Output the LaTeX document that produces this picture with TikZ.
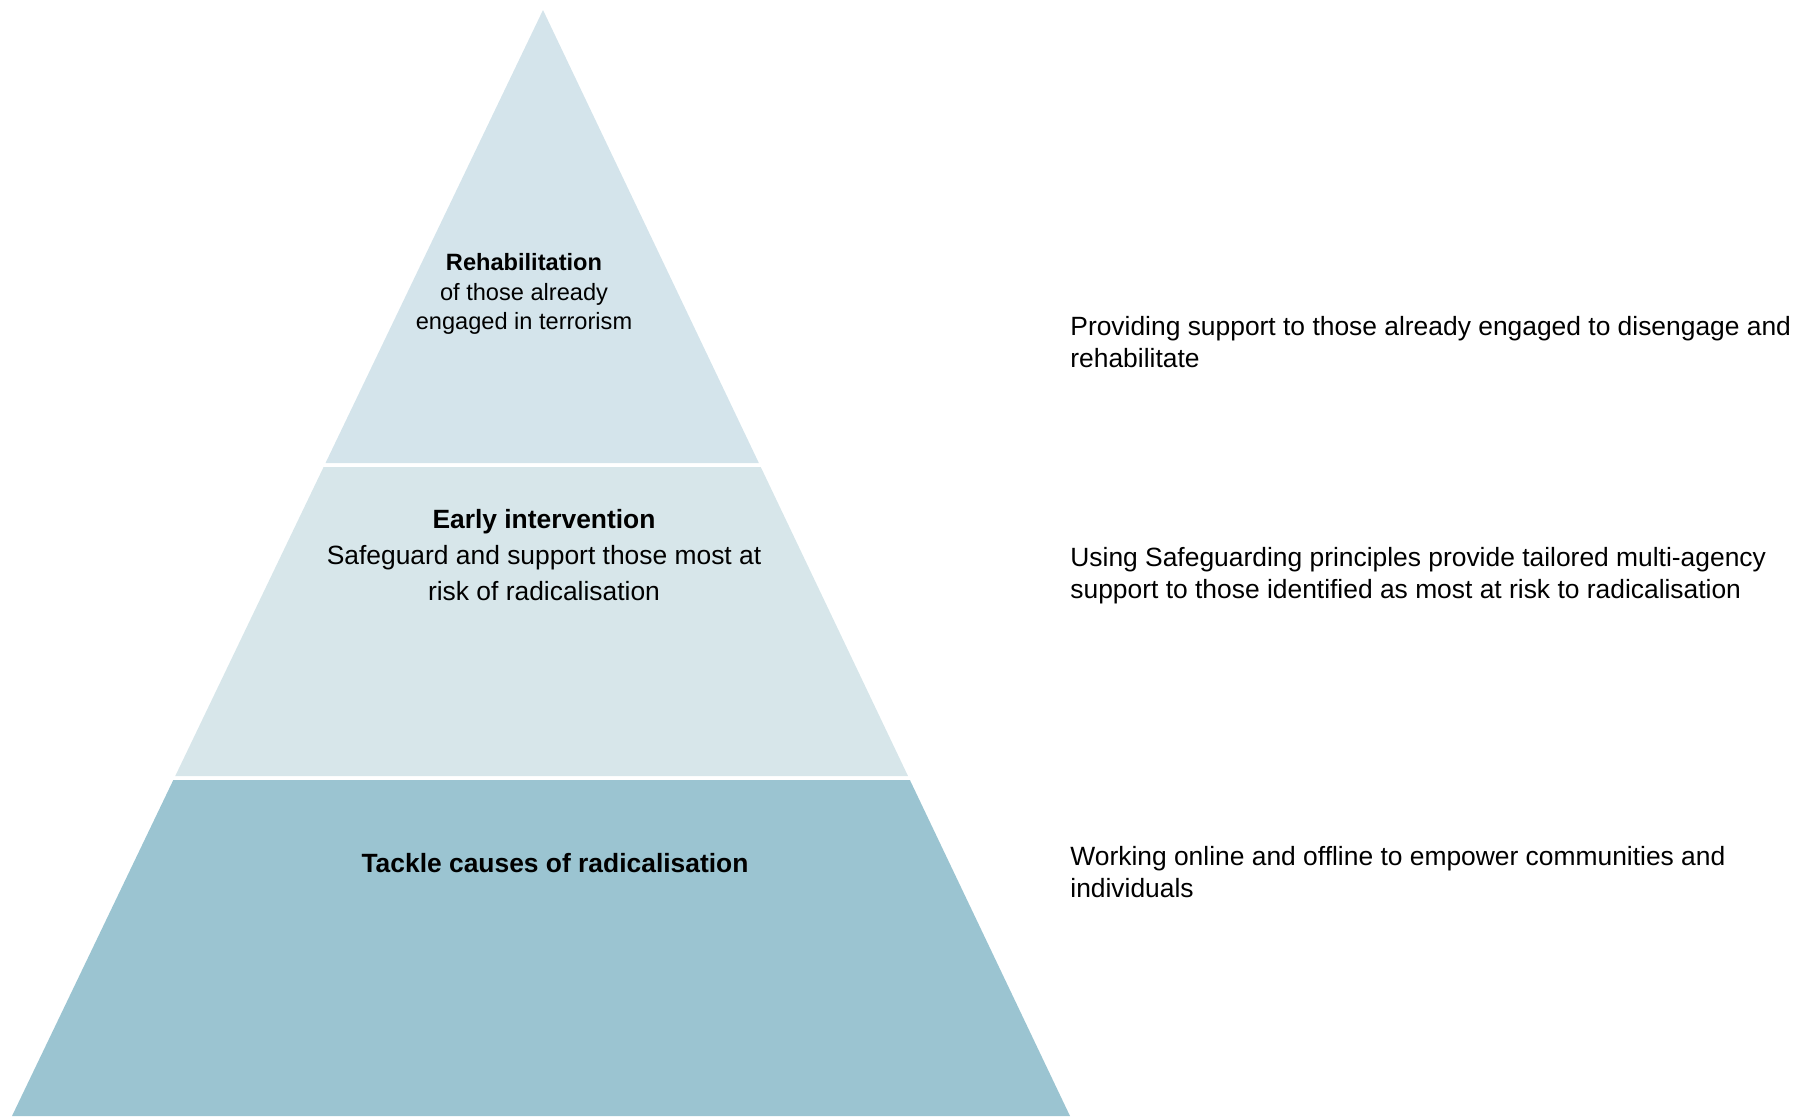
\documentclass[tikz,border=0pt]{standalone}
\usepackage{fontspec}
\setmainfont{Liberation Sans}
\usetikzlibrary{calc, positioning}

\definecolor{toptier}{RGB}{212,228,235}
\definecolor{midtier}{RGB}{215,230,234}
\definecolor{basetier}{RGB}{155,196,209}

\begin{document}
\begin{tikzpicture}[
    x=0.5pt, y=-0.5pt,
    % Define node styles
    tierlabel/.style={inner sep=0pt, align=center, text=black,
                      font=\fontsize{13.2}{18.2}\selectfont},
    smalllabel/.style={inner sep=0pt, align=center, text=black,
                       font=\fontsize{11.8}{14.8}\selectfont},
    desc/.style={inner sep=0pt, align=left, anchor=west, text=black,
                 font=\fontsize{13.2}{16}\selectfont}
]
    \useasboundingbox (0,0) rectangle (1808,1116);

    % Pyramid corners
    \coordinate (apex) at (543,10);
    \coordinate (bl) at (12,1116);
    \coordinate (br) at (1070,1116);

    % Draw tiers
    \fill[toptier] (apex) -- ($(apex)!0.4096!(br)$) -- ($(apex)!0.4096!(bl)$) -- cycle;
    \fill[midtier] ($(apex)!0.4132!(bl)$) -- ($(apex)!0.4132!(br)$)
        -- ($(apex)!0.6926!(br)$) -- ($(apex)!0.6926!(bl)$) -- cycle;
    \fill[basetier] ($(apex)!0.6962!(bl)$) -- ($(apex)!0.6962!(br)$)
        -- (br) -- (bl) -- cycle;

    % Create nodes
    \node[smalllabel] (rehab) at (524,294)
        {\textbf{Rehabilitation}\\of those already\\engaged in terrorism};
    \node[tierlabel] (early) at (544,555)
        {\textbf{Early intervention}\\Safeguard and support those most at\\risk of radicalisation};
    \node[tierlabel] (tackle) at (555,863)
        {\textbf{Tackle causes of radicalisation}};

    \node[desc] (rehabdesc) at (1070,342)
        {Providing support to those already engaged to disengage and\\rehabilitate};
    \node[desc] (earlydesc) at (1070,576)
        {Using Safeguarding principles provide tailored multi-agency\\support to those identified as most at risk to radicalisation};
    \node[desc] (tackledesc) at (1070,872)
        {Working online and offline to empower communities and\\individuals};
\end{tikzpicture}
\end{document}
